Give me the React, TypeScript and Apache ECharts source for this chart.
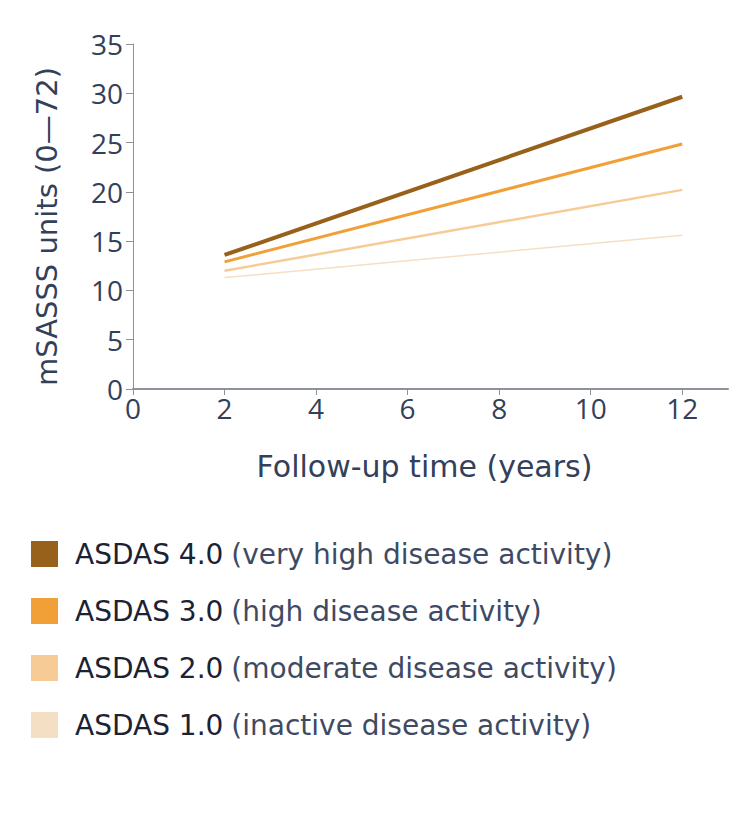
import React, { useEffect, useRef } from "react";
import * as echarts from "echarts";

const years = [2, 12];
const asdas4 = [13.6, 29.65];
const asdas3 = [12.9, 24.85];
const asdas2 = [12.0, 20.2];
const asdas1 = [11.3, 15.6];
const xTicks = [0, 2, 4, 6, 8, 10, 12];

const seriesDefs = [
  { key: "ASDAS 4.0", desc: "(very high disease activity)", data: asdas4, color: "#98611B", width: 4 },
  { key: "ASDAS 3.0", desc: "(high disease activity)", data: asdas3, color: "#F0A036", width: 3 },
  { key: "ASDAS 2.0", desc: "(moderate disease activity)", data: asdas2, color: "#F7CB96", width: 2.5 },
  { key: "ASDAS 1.0", desc: "(inactive disease activity)", data: asdas1, color: "#F5DFC4", width: 1.5 },
];

const FONT = "Open Sans";
const WIDE = "DejaVu Sans";
const TEXT = "#33405A";
const AXIS = "#8C919C";

export default function App() {
  const ref = useRef<HTMLDivElement>(null);
  useEffect(() => {
    if (!ref.current) return;
    const chart = echarts.init(ref.current, null, { renderer: "svg" });
    const descMap: Record<string, string> = {};
    seriesDefs.forEach((s) => (descMap[s.key] = s.desc));
    chart.setOption({
      animation: false,
      textStyle: { fontFamily: FONT },
      grid: { left: 133, right: 22, top: 44, bottom: 429, containLabel: false },
      xAxis: {
        type: "value",
        min: 0,
        max: 13,
        interval: 2,
        name: "Follow-up time (years)",
        nameLocation: "middle",
        nameGap: 62,
        nameTextStyle: { fontSize: 30, color: TEXT, fontFamily: WIDE, padding: [0, 12, 0, 0] },
        axisLine: { show: true, lineStyle: { color: AXIS, width: 2 } },
        axisTick: { show: true, length: 6, lineStyle: { color: AXIS, width: 1 }, customValues: xTicks },
        axisLabel: { fontSize: 28, color: TEXT, margin: 5, fontFamily: FONT, customValues: xTicks },
        splitLine: { show: false },
      },
      yAxis: {
        type: "value",
        min: 0,
        max: 35,
        interval: 5,
        name: "mSASSS units (0\u201472)",
        nameLocation: "middle",
        nameGap: 72,
        nameRotate: 90,
        nameTextStyle: { fontSize: 29, color: TEXT, fontFamily: WIDE, padding: [0, 20, 0, 0] },
        axisLine: { show: true, lineStyle: { color: AXIS, width: 1 } },
        axisTick: { show: true, length: 7, lineStyle: { color: AXIS, width: 1 } },
        axisLabel: { fontSize: 28, color: TEXT, margin: 10, fontFamily: FONT },
        splitLine: { show: false },
      },
      legend: {
        orient: "vertical",
        left: 31,
        top: 540,
        padding: 0,
        icon: "rect",
        itemWidth: 27,
        itemHeight: 26,
        itemGap: 29,
        selectedMode: false,
        data: seriesDefs.map((s) => s.key),
        formatter: (name: string) => `{b|${name}}{n|${descMap[name]}}`,
        textStyle: {
          fontFamily: WIDE,
          padding: [0, 0, 0, 12],
          rich: {
            b: { fontSize: 28, color: "#1B2233", fontFamily: WIDE, fontWeight: "normal", padding: [0, 8, 0, 0] },
            n: { fontSize: 28, color: "#3E4A64", fontFamily: WIDE, fontWeight: "normal" },
          },
        },
      },
      series: seriesDefs.map((s) => ({
        name: s.key,
        type: "line",
        data: years.map((x, i) => [x, s.data[i]]),
        showSymbol: false,
        symbol: "none",
        lineStyle: { color: s.color, width: s.width },
        itemStyle: { color: s.color },
        color: s.color,
      })),
    });
    return () => chart.dispose();
  }, []);
  return <div ref={ref} style={{ width: 750, height: 818, margin: -8 }} />;
}
